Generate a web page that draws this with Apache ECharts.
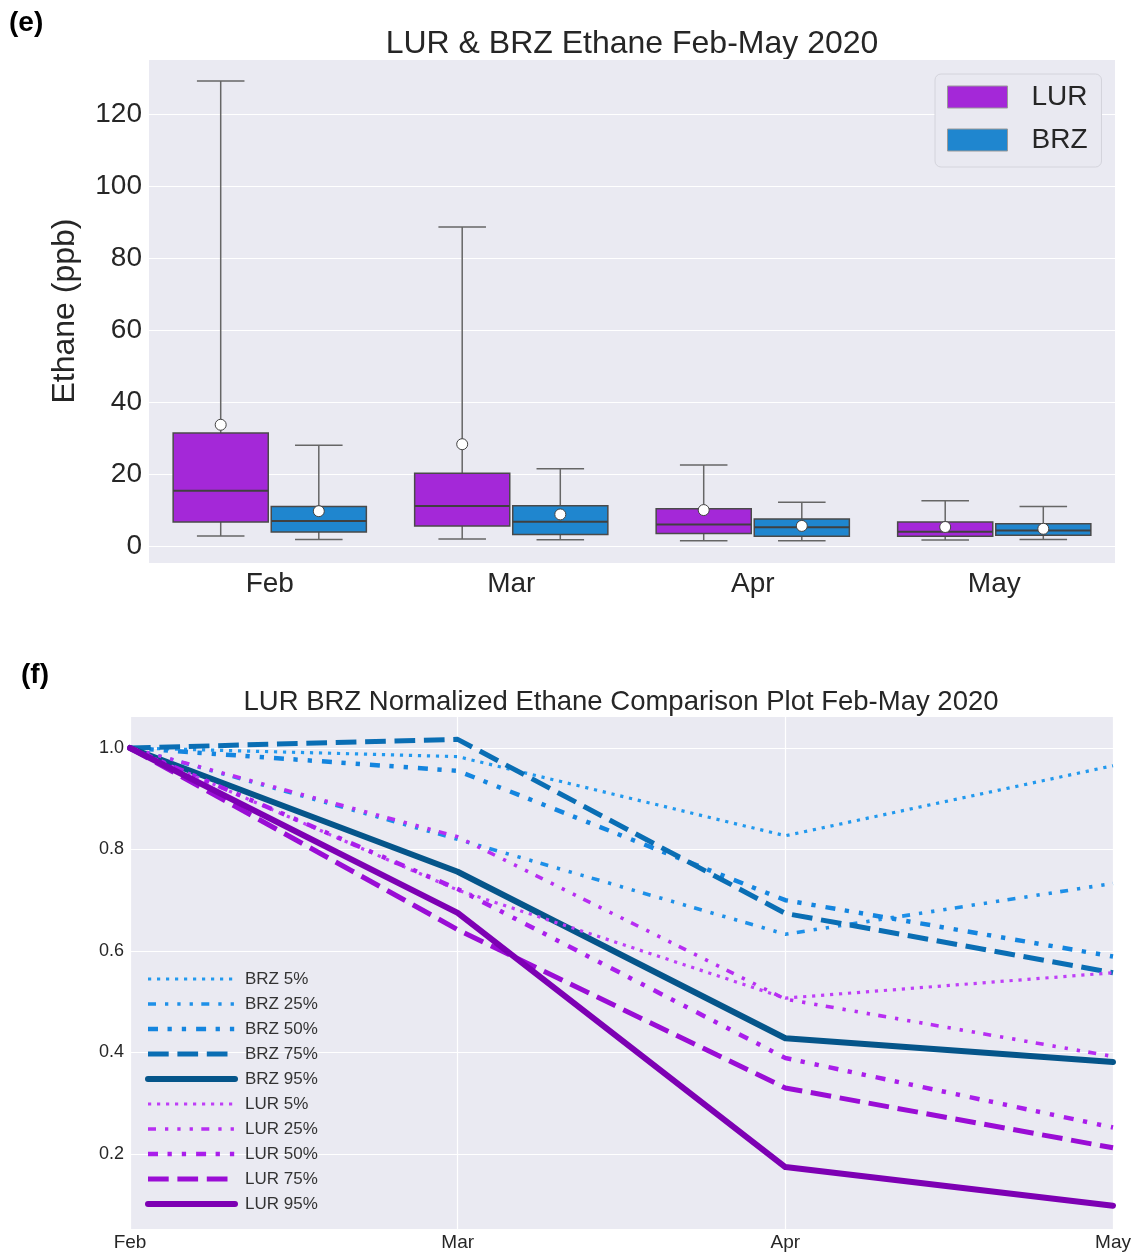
<!DOCTYPE html>
<html>
<head>
<meta charset="utf-8">
<script src="https://cdn.jsdelivr.net/npm/echarts@6/dist/echarts.min.js"></script>
<style>
html,body{margin:0;padding:0;background:#fff;}
#chart{width:1138px;height:1255px;}
</style>
</head>
<body>
<div id="chart"></div>
<script>
// ---------- Panel (e): box plot data (ppb) ----------
const months = ['Feb', 'Mar', 'Apr', 'May'];
const lurWhiskerLow  = [2.8, 2.0, 1.5, 1.7];
const lurQ1          = [6.7, 5.6, 3.5, 2.7];
const lurMedian      = [15.4, 11.1, 6.0, 4.0];
const lurQ3          = [31.4, 20.2, 10.4, 6.7];
const lurWhiskerHigh = [129.2, 88.6, 22.5, 12.6];
const lurMean        = [33.7, 28.3, 10.0, 5.3];

const brzWhiskerLow  = [1.85, 1.76, 1.5, 1.8];
const brzQ1          = [3.9, 3.2, 2.7, 3.0];
const brzMedian      = [7.0, 6.75, 5.2, 4.3];
const brzQ3          = [11.0, 11.2, 7.5, 6.2];
const brzWhiskerHigh = [28.0, 21.5, 12.2, 11.0];
const brzMean        = [9.7, 8.8, 5.6, 4.8];

// ---------- Panel (f): normalized percentiles ----------
const brz5  = [1.0, 0.983, 0.827, 0.965];
const brz25 = [1.0, 0.820, 0.633, 0.733];
const brz50 = [1.0, 0.955, 0.700, 0.589];
const brz75 = [1.0, 1.017, 0.674, 0.557];
const brz95 = [1.0, 0.756, 0.428, 0.381];
const lur5  = [1.0, 0.720, 0.507, 0.557];
const lur25 = [1.0, 0.825, 0.505, 0.392];
const lur50 = [1.0, 0.722, 0.389, 0.252];
const lur75 = [1.0, 0.642, 0.330, 0.212];
const lur95 = [1.0, 0.675, 0.174, 0.098];

const FONT = '"Liberation Sans", Arial, sans-serif';
const TXT = '#262626';
const LUR_COLOR = '#a428d8';
const BRZ_COLOR = '#1f86cf';

function boxData(lo, q1, med, q3, hi, mean) {
  return months.map((m, i) => [i, lo[i], q1[i], med[i], q3[i], hi[i], mean[i]]);
}

function boxRenderer(side, fill) {
  return function (params, api) {
    const i = api.value(0);
    const band = api.size([1, 0])[0];
    const cx = api.coord([i, 0])[0];
    const left = side < 0 ? cx - 0.4 * band : cx + 1.5;
    const right = side < 0 ? cx - 1.5 : cx + 0.4 * band;
    const mid = (left + right) / 2;
    const w = right - left;
    const y = k => api.coord([i, api.value(k)])[1];
    const yLo = y(1), yQ1 = y(2), yMed = y(3), yQ3 = y(4), yHi = y(5), yMean = y(6);
    const cap = w / 4;
    const wStyle = { stroke: '#666666', lineWidth: 1.5 };
    return {
      type: 'group',
      children: [
        { type: 'line', shape: { x1: mid, y1: yQ1, x2: mid, y2: yLo }, style: wStyle },
        { type: 'line', shape: { x1: mid - cap, y1: yLo, x2: mid + cap, y2: yLo }, style: wStyle },
        { type: 'line', shape: { x1: mid, y1: yQ3, x2: mid, y2: yHi }, style: wStyle },
        { type: 'line', shape: { x1: mid - cap, y1: yHi, x2: mid + cap, y2: yHi }, style: wStyle },
        { type: 'rect', shape: { x: left, y: yQ3, width: w, height: yQ1 - yQ3 },
          style: { fill: fill, stroke: '#4a4a4a', lineWidth: 1.5 } },
        { type: 'line', shape: { x1: left, y1: yMed, x2: right, y2: yMed },
          style: { stroke: '#404040', lineWidth: 2 } },
        { type: 'circle', shape: { cx: mid, cy: yMean, r: 5.5 },
          style: { fill: '#ffffff', stroke: '#444444', lineWidth: 1 } }
      ]
    };
  };
}

const lineDefs = [
  { name: 'BRZ 5%',  data: brz5,  color: '#2299ee', width: 3.2, type: [3.2, 5.8] },
  { name: 'BRZ 25%', data: brz25, color: '#1e90e8', width: 3.6, type: [8, 9, 3.3, 9, 3.3, 9, 3.3, 8.4] },
  { name: 'BRZ 50%', data: brz50, color: '#1485df', width: 4.5, type: [10, 9.5, 4.3, 10, 4.3, 10] },
  { name: 'BRZ 75%', data: brz75, color: '#0a6eb4', width: 5,   type: [20.7, 8.7] },
  { name: 'BRZ 95%', data: brz95, color: '#05558a', width: 6,   type: 'solid' },
  { name: 'LUR 5%',  data: lur5,  color: '#bf3ff7', width: 3.2, type: [3.2, 5.8] },
  { name: 'LUR 25%', data: lur25, color: '#b82ef2', width: 3.6, type: [8, 9, 3.3, 9, 3.3, 9, 3.3, 8.4] },
  { name: 'LUR 50%', data: lur50, color: '#aa1eeb', width: 4.5, type: [10, 9.5, 4.3, 10, 4.3, 10] },
  { name: 'LUR 75%', data: lur75, color: '#9a0dd5', width: 5,   type: [20.7, 8.7] },
  { name: 'LUR 95%', data: lur95, color: '#7d00b3', width: 6,   type: 'solid' }
];

const chart = echarts.init(document.getElementById('chart'), null, { renderer: 'canvas' });

const option = {
  animation: false,
  backgroundColor: '#ffffff',
  textStyle: { fontFamily: FONT },
  graphic: [
    { type: 'text', x: 9, y: 23, style: { text: '(e)', font: 'bold 28px ' + FONT, fill: '#000', align: 'left', verticalAlign: 'middle', textAlign: 'left', textVerticalAlign: 'middle' } },
    { type: 'text', x: 632, y: 44, style: { text: 'LUR & BRZ Ethane Feb-May 2020', font: '32px ' + FONT, fill: TXT, align: 'center', verticalAlign: 'middle', textAlign: 'center', textVerticalAlign: 'middle' } },
    { type: 'text', x: 21, y: 675, style: { text: '(f)', font: 'bold 28px ' + FONT, fill: '#000', align: 'left', verticalAlign: 'middle', textAlign: 'left', textVerticalAlign: 'middle' } },
    { type: 'text', x: 621, y: 702, style: { text: 'LUR BRZ Normalized Ethane Comparison Plot Feb-May 2020', font: '27.5px ' + FONT, fill: TXT, align: 'center', verticalAlign: 'middle', textAlign: 'center', textVerticalAlign: 'middle' } }
  ],
  grid: [
    { left: 149, top: 59, width: 966, height: 504, show: true, backgroundColor: '#eaeaf2', borderWidth: 0 },
    { left: 130, top: 716, width: 983, height: 513, show: true, backgroundColor: '#eaeaf2', borderWidth: 0 }
  ],
  legend: [
    {
      orient: 'vertical', left: 935, top: 74,
      itemWidth: 60, itemHeight: 22, itemGap: 13,
      backgroundColor: '#e9e9f1', borderColor: '#d4d4dc', borderWidth: 1, borderRadius: 6,
      padding: [8, 14, 12, 12],
      textStyle: { fontSize: 28, color: TXT, fontFamily: FONT, lineHeight: 30, padding: [0, 0, 0, 19] },
      data: [
        { name: 'LUR', icon: 'rect', itemStyle: { color: LUR_COLOR, borderColor: '#999', borderWidth: 1 } },
        { name: 'BRZ', icon: 'rect', itemStyle: { color: BRZ_COLOR, borderColor: '#999', borderWidth: 1 } }
      ]
    },
    {
      orient: 'vertical', left: 145, top: 969,
      itemWidth: 87, itemHeight: 14, itemGap: 5, padding: 0,
      itemStyle: { opacity: 0 },
      textStyle: { fontSize: 17, color: '#333333', fontFamily: FONT, lineHeight: 20, padding: [0, 0, 0, 5] },
      data: lineDefs.map(d => ({
        name: d.name,
        itemStyle: { opacity: 0 },
        lineStyle: { width: d.width, type: d.type, color: d.color, cap: d.type === 'solid' ? 'round' : 'butt' }
      }))
    }
  ],
  xAxis: [
    {
      type: 'category', gridIndex: 0, data: months, boundaryGap: true,
      axisLine: { show: false }, axisTick: { show: false }, splitLine: { show: false },
      axisLabel: { fontSize: 28, color: TXT, fontFamily: FONT, margin: 7 }
    },
    {
      type: 'category', gridIndex: 1, data: months, boundaryGap: false,
      axisLine: { show: false }, axisTick: { show: false },
      splitLine: { show: true, lineStyle: { color: '#ffffff', width: 1.2 } },
      axisLabel: { fontSize: 19, color: TXT, fontFamily: FONT, margin: 4 }
    }
  ],
  yAxis: [
    {
      type: 'value', gridIndex: 0, min: -4.7, max: 135.3, splitNumber: 7,
      name: 'Ethane (ppb)', nameLocation: 'middle', nameGap: 68,
      nameTextStyle: { fontSize: 32, color: TXT, fontFamily: FONT },
      axisLine: { show: false }, axisTick: { show: false },
      splitLine: { show: true, lineStyle: { color: '#ffffff', width: 1.2 } },
      axisLabel: { fontSize: 28, color: TXT, fontFamily: FONT, margin: 7, showMinLabel: false, showMaxLabel: false,
        formatter: v => (Math.abs(v % 20) < 1e-6 ? String(v) : '') }
    },
    {
      type: 'value', gridIndex: 1, min: 0.052, max: 1.063, splitNumber: 5,
      axisLine: { show: false }, axisTick: { show: false },
      splitLine: { show: true, lineStyle: { color: '#ffffff', width: 1.2 } },
      axisLabel: { fontSize: 18, color: TXT, fontFamily: FONT, margin: 6, showMinLabel: false, showMaxLabel: false,
        formatter: v => v.toFixed(1) }
    }
  ],
  series: [
    {
      name: 'LUR', type: 'custom', xAxisIndex: 0, yAxisIndex: 0,
      itemStyle: { color: LUR_COLOR },
      encode: { x: 0, y: [1, 2, 3, 4, 5, 6] },
      renderItem: boxRenderer(-1, LUR_COLOR),
      data: boxData(lurWhiskerLow, lurQ1, lurMedian, lurQ3, lurWhiskerHigh, lurMean)
    },
    {
      name: 'BRZ', type: 'custom', xAxisIndex: 0, yAxisIndex: 0,
      itemStyle: { color: BRZ_COLOR },
      encode: { x: 0, y: [1, 2, 3, 4, 5, 6] },
      renderItem: boxRenderer(1, BRZ_COLOR),
      data: boxData(brzWhiskerLow, brzQ1, brzMedian, brzQ3, brzWhiskerHigh, brzMean)
    }
  ].concat(lineDefs.map(d => ({
    name: d.name, type: 'line', xAxisIndex: 1, yAxisIndex: 1,
    data: d.data, symbol: 'none', showSymbol: false, smooth: false,
    itemStyle: { color: d.color },
    lineStyle: { color: d.color, width: d.width, type: d.type, cap: d.type === 'solid' ? 'round' : 'butt', join: 'round' }
  })))
};

chart.setOption(option);
</script>
</body>
</html>
